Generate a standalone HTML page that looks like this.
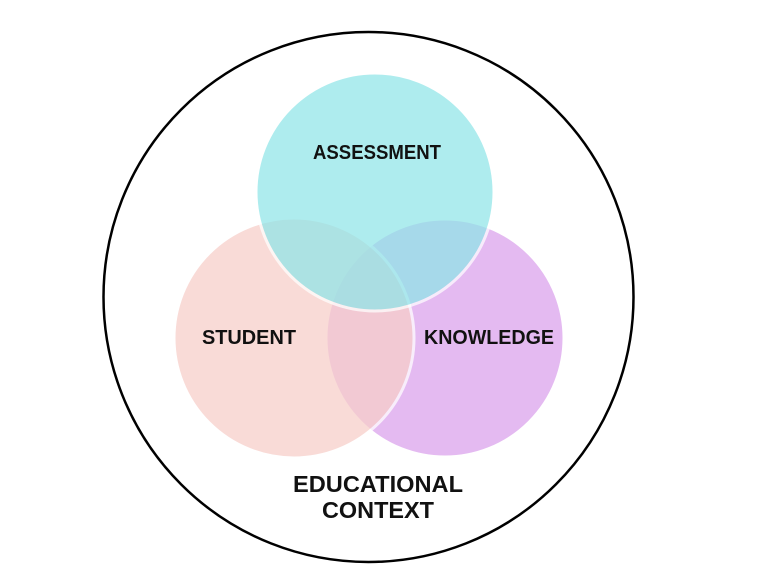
<!DOCTYPE html>
<html><head><meta charset="utf-8"><style>
html,body{margin:0;padding:0;background:#fff;}
svg{display:block;}
text{font-family:"Liberation Sans",sans-serif;font-weight:bold;font-size:20px;fill:#111;text-anchor:middle;}
</style></head><body>
<svg width="768" height="576" viewBox="0 0 768 576">
<rect width="768" height="576" fill="#fff"/>
<circle cx="368.5" cy="297" r="265" fill="none" stroke="#000" stroke-width="2.5"/>
<circle cx="445" cy="338" r="119" fill="#dea9ee" stroke="#fff" stroke-width="3" opacity="0.8"/>
<circle cx="294" cy="338" r="120" fill="#f7cfca" stroke="#fff" stroke-width="3" opacity="0.75"/>
<circle cx="375" cy="192" r="119" fill="#8fe6e8" stroke="#fff" stroke-width="3" opacity="0.72"/>
<text x="377" y="159" textLength="128" lengthAdjust="spacingAndGlyphs">ASSESSMENT</text>
<text x="249" y="344" textLength="94" lengthAdjust="spacingAndGlyphs">STUDENT</text>
<text x="489" y="344" textLength="130" lengthAdjust="spacingAndGlyphs">KNOWLEDGE</text>
<text x="378" y="492" style="font-size:23px" textLength="170" lengthAdjust="spacingAndGlyphs">EDUCATIONAL</text>
<text x="378" y="518" style="font-size:23px" textLength="112" lengthAdjust="spacingAndGlyphs">CONTEXT</text>
</svg>
</body></html>
